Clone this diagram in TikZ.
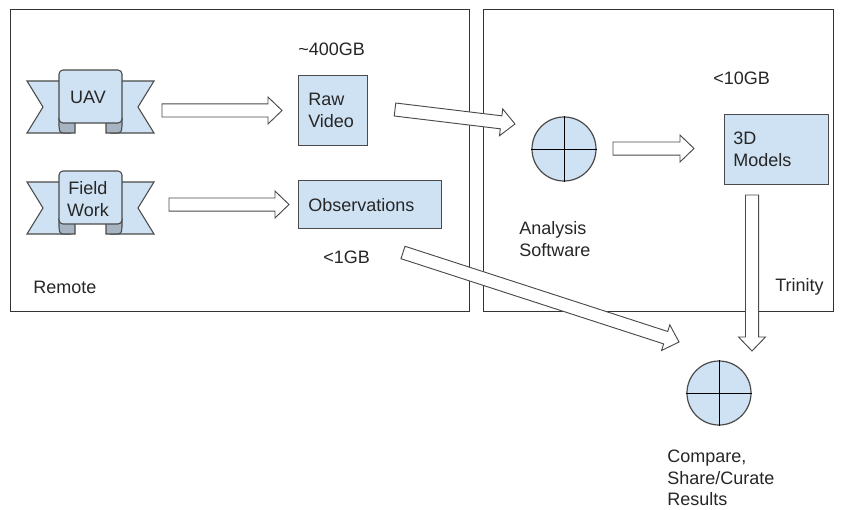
\documentclass[tikz,border=0pt]{standalone}
\usepackage{fontspec}
\setmainfont{Liberation Sans}
\usetikzlibrary{calc}
\definecolor{paleblue}{HTML}{CFE2F3}
\definecolor{folddark}{HTML}{A7B5C3}
\definecolor{edgegray}{HTML}{4A4A4A}

% Outlined block arrow from #1 to #2 (shaft half width, head half width, head length in pt)
\newcommand{\blockarrow}[2]{%
  \coordinate (hb) at ($(#2)!10.5pt!(#1)$);
  \draw[blk] ($(#1)!4.9pt!-90:(#2)$) -- ($(hb)!4.9pt!-90:(#2)$) -- ($(hb)!10.1pt!-90:(#2)$)
    -- (#2) -- ($(hb)!10.1pt!90:(#2)$) -- ($(hb)!4.9pt!90:(#2)$) -- ($(#1)!4.9pt!90:(#2)$) -- cycle;
}

% Banner ribbon; #1,#2 = centre x and top y of the front panel
\newcommand{\ribbonshape}[2]{%
  \begin{scope}[shift={(#1,#2)}]
    % tails
    \draw[rib] (-63.5,11) -- (-20,11) -- (-20,63) -- (-63.5,63) -- (-47.5,37) -- cycle;
    \draw[rib] (63.5,11) -- (20,11) -- (20,63) -- (63.5,63) -- (47.5,37) -- cycle;
    % folds under the panel
    \draw[rib, fill=folddark] (-15.5,48) -- (-15.5,63) -- (-27,63)
      .. controls (-31.5,63) and (-31.5,59) .. (-31.5,56) -- (-31.5,48) -- cycle;
    \draw[rib, fill=folddark] (15.5,48) -- (15.5,63) -- (27,63)
      .. controls (31.5,63) and (31.5,59) .. (31.5,56) -- (31.5,48) -- cycle;
    % front panel
    \draw[rib, rounded corners=3] (-31.5,0) rectangle (31.5,53);
  \end{scope}
}

\begin{document}
\begin{tikzpicture}[x=0.75pt, y=-0.75pt,
  lbl/.style={font=\fontsize{13.5}{16.2}\selectfont, inner sep=0pt, align=left, text=black!85},
  box/.style={draw=edgegray, line width=0.9pt, fill=paleblue, inner sep=0pt, anchor=north west},
  zone/.style={draw=black!80, line width=1.1pt, inner sep=0pt, anchor=north west},
  blk/.style={draw=edgegray, line width=0.7pt, fill=white, line join=miter},
  rib/.style={draw=edgegray, line width=0.8pt, fill=paleblue},
  hub/.style={circle, draw=edgegray, line width=0.9pt, fill=paleblue, minimum size=48pt, inner sep=0pt},
  cross/.style={draw=black, line width=0.6pt}]
\useasboundingbox (0,0) rectangle (843,510);

% zones
\node[zone, minimum width=344.25pt, minimum height=226.5pt] (remote) at (10,9) {};
\node[zone, minimum width=262.5pt, minimum height=226.5pt] (trinity) at (483,9) {};
\node[lbl, anchor=west] (remotelbl) at (33,287) {Remote};
\node[lbl, anchor=west] (trinitylbl) at (775,287) {Trinity};

% sources
\ribbonshape{90.5}{70}
\node[lbl, align=center] (uav) at (88,97) {UAV};
\ribbonshape{90.5}{171}
\node[lbl, align=center] (field) at (88,199) {Field\\Work};

% data boxes
\node[box, minimum width=51.75pt, minimum height=52.5pt] (raw) at (298,75) {};
\node[lbl, anchor=west] (rawtxt) at ($(raw.west)+(10,0)$) {Raw\\Video};
\node[lbl, anchor=west] (rawsize) at (298,49) {\textasciitilde400GB};

\node[box, minimum width=107.25pt, minimum height=36pt] (obs) at (298,180) {};
\node[lbl, anchor=west] (obstxt) at ($(obs.west)+(10,0)$) {Observations};
\node[lbl, anchor=west] (obssize) at (323,257) {<1GB};

\node[box, minimum width=78pt, minimum height=52.5pt] (models) at (724,114) {};
\node[lbl, anchor=west] (modelstxt) at ($(models.west)+(9,0)$) {3D\\Models};
\node[lbl, anchor=west] (modelsize) at (713,78) {<10GB};

% processing hubs
\node[hub] (analysis) at (564,149) {};
\draw[cross] (analysis.north) -- (analysis.south) (analysis.west) -- (analysis.east);
\node[lbl, anchor=west] (analysislbl) at (519,239) {Analysis\\Software};

\node[hub] (compare) at (719,393) {};
\draw[cross] (compare.north) -- (compare.south) (compare.west) -- (compare.east);
\node[lbl, anchor=west] (comparelbl) at (667,478) {Compare,\\Share/Curate\\Results};

% arrow end points
\coordinate (a1s) at (162,110.5); \coordinate (a1e) at (282,110.5);
\coordinate (a2s) at (169,204.5); \coordinate (a2e) at (289,204.5);
\coordinate (a3s) at (395,109.5); \coordinate (a3e) at (515,124);
\coordinate (a4s) at (613,148.5); \coordinate (a4e) at (694,148.5);
\coordinate (a5s) at (752,195);   \coordinate (a5e) at (752,351);
\coordinate (a6s) at (403,252.5); \coordinate (a6e) at (679,342);

\blockarrow{a1s}{a1e}
\blockarrow{a2s}{a2e}
\blockarrow{a3s}{a3e}
\blockarrow{a4s}{a4e}
\blockarrow{a5s}{a5e}
\blockarrow{a6s}{a6e}
\end{tikzpicture}
\end{document}
